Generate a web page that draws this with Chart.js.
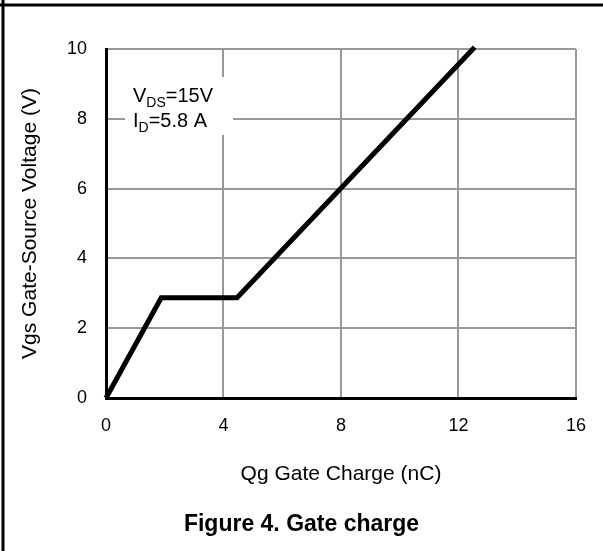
<!DOCTYPE html>
<html>
<head>
<meta charset="utf-8">
<script src="https://cdn.jsdelivr.net/npm/chart.js@4/dist/chart.umd.min.js"></script>
<style>
  html, body { margin: 0; padding: 0; background: #fff; }
  #wrap { width: 603px; height: 551px; position: relative; }
</style>
</head>
<body>
<div id="wrap"><canvas id="c" width="603" height="551"></canvas></div>
<script>
// Data
const qgCharge = [0, 1.88, 4.46, 12.55];      // nC
const vgsVoltage = [0, 2.87, 2.87, 10.05];     // V
const xTicks = [0, 4, 8, 12, 16];
const yTicks = [0, 2, 4, 6, 8, 10];
const xTitle = 'Qg Gate Charge (nC)';
const yTitle = 'Vgs Gate-Source Voltage (V)';
const caption = 'Figure 4. Gate charge';
const noteLine1 = ['V', 'DS', '=15V'];
const noteLine2 = ['I', 'D', '=5.8 A'];

const FONT = 'Arial, "Liberation Sans", Helvetica, sans-serif';

const framePlugin = {
  id: 'frame',
  beforeDraw(chart) {
    const ctx = chart.ctx;
    ctx.save();
    ctx.fillStyle = '#fff';
    ctx.fillRect(0, 0, chart.width, chart.height);
    ctx.strokeStyle = '#000';
    ctx.lineWidth = 3;
    ctx.beginPath();
    ctx.moveTo(0, 5); ctx.lineTo(chart.width, 5);
    ctx.moveTo(3, 0); ctx.lineTo(3, chart.height);
    ctx.stroke();
    ctx.restore();
  },
  beforeDatasetsDraw(chart) {
    const ctx = chart.ctx;
    ctx.save();
    ctx.fillStyle = '#fff';
    ctx.fillRect(125, 77, 108, 58);
    ctx.fillStyle = '#000';
    const drawSub = (parts, x, y) => {
      ctx.font = '20px ' + FONT;
      ctx.textBaseline = 'alphabetic';
      ctx.textAlign = 'left';
      ctx.fillText(parts[0], x, y);
      x += ctx.measureText(parts[0]).width;
      ctx.font = '14px ' + FONT;
      ctx.fillText(parts[1], x, y + 5);
      x += ctx.measureText(parts[1]).width;
      ctx.font = '20px ' + FONT;
      ctx.fillText(parts[2], x, y);
    };
    drawSub(noteLine1, 133, 102);
    drawSub(noteLine2, 133, 127);
    ctx.restore();
  },
  afterDraw(chart) {
    const ctx = chart.ctx;
    ctx.save();
    ctx.fillStyle = '#000';
    ctx.font = 'bold 23px ' + FONT;
    ctx.textAlign = 'center';
    ctx.textBaseline = 'alphabetic';
    ctx.fillText(caption, chart.width / 2, 531);
    ctx.restore();
  }
};

new Chart(document.getElementById('c'), {
  type: 'scatter',
  data: {
    datasets: [{
      data: qgCharge.map((x, i) => ({ x: x, y: vgsVoltage[i] })),
      showLine: true,
      borderColor: '#000',
      borderWidth: 5,
      pointRadius: 0,
      tension: 0,
      clip: false,
      borderJoinStyle: 'miter'
    }]
  },
  options: {
    responsive: false,
    animation: false,
    devicePixelRatio: 1,
    layout: { padding: { left: 6, right: 24, top: 49, bottom: 0 } },
    plugins: {
      legend: { display: false },
      tooltip: { enabled: false },
      title: { display: false }
    },
    scales: {
      x: {
        type: 'linear',
        min: 0, max: 16,
        afterBuildTicks: (s) => { s.ticks = xTicks.map(v => ({ value: v })); },
        afterFit: (s) => { s.height = 153; },
        grid: { color: '#999', lineWidth: 2, drawTicks: false },
        border: { color: '#000', width: 3 },
        ticks: { color: '#000', font: { family: FONT, size: 18 }, padding: 17 },
        title: {
          display: true, text: xTitle, color: '#000',
          font: { family: FONT, size: 21 }, padding: { top: 0, bottom: 64 }
        }
      },
      y: {
        type: 'linear',
        min: 0, max: 10,
        afterBuildTicks: (s) => { s.ticks = yTicks.map(v => ({ value: v })); },
        afterFit: (s) => { s.width = 100; },
        grid: { color: '#999', lineWidth: 2, drawTicks: false },
        border: { color: '#000', width: 3 },
        ticks: { color: '#000', font: { family: FONT, size: 18 }, padding: 19 },
        title: {
          display: true, text: yTitle, color: '#000',
          font: { family: FONT, size: 21 }, padding: { top: 12, bottom: 0 }
        }
      }
    }
  },
  plugins: [framePlugin]
});
</script>
</body>
</html>
